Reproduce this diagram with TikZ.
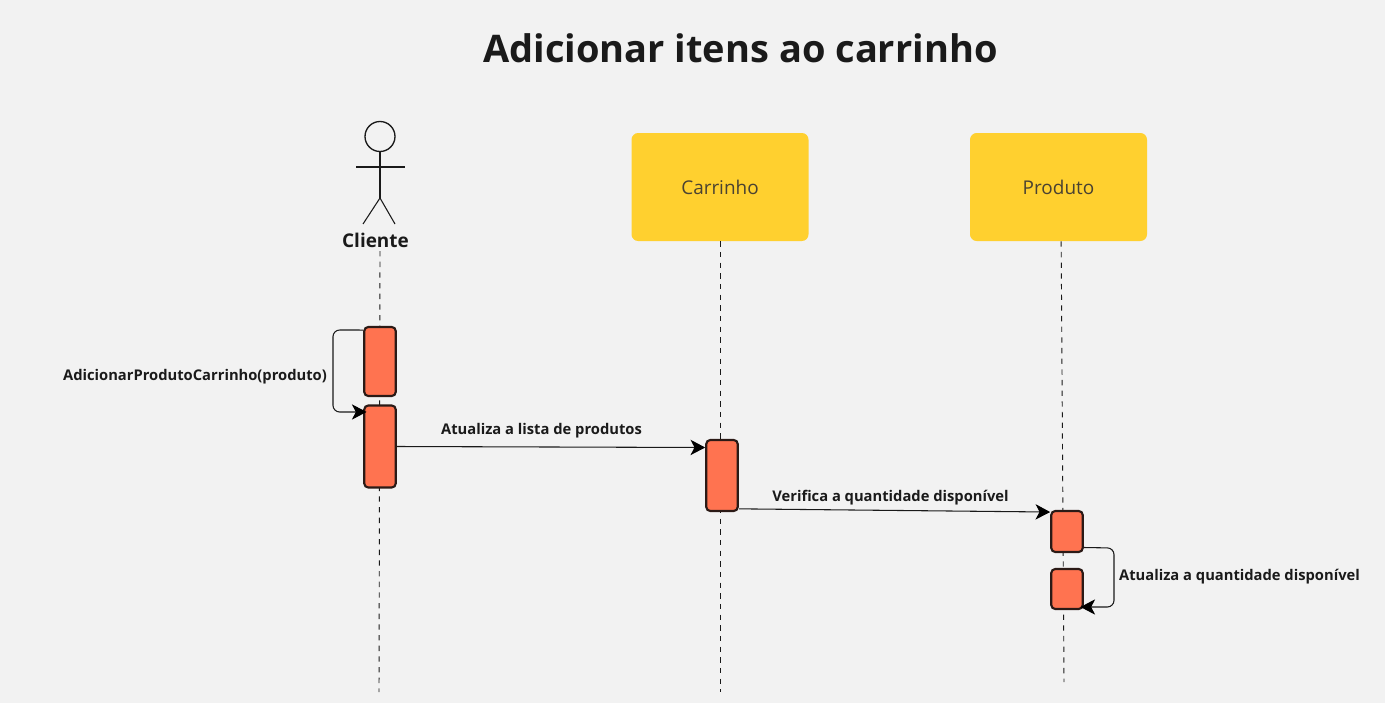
\documentclass[tikz,border=0pt]{standalone}
\usepackage{fontspec}
\setmainfont{Open Sans}
\usepackage{tikz}
\usetikzlibrary{arrows.meta}
\definecolor{paper}{HTML}{F2F2F2}
\definecolor{boxfill}{HTML}{FFD02F}
\definecolor{barfill}{HTML}{FF7350}
\definecolor{barline}{HTML}{2B1A16}
\definecolor{ink}{HTML}{1A1A1A}
\definecolor{boxtext}{HTML}{4A4232}
\tikzset{
  classbox/.style={fill=boxfill,rounded corners=5pt,minimum width=132.75pt,minimum height=81pt,text=boxtext,font=\fontsize{14.2}{17}\selectfont,inner sep=0pt},
  actbar/.style={draw=barline,fill=barfill,line width=1.6pt,rounded corners=3pt,minimum width=23.6pt,inner sep=0pt},
  lifeline/.style={line width=0.7pt,dash pattern=on 4pt off 4pt,draw=ink},
  msg/.style={draw=ink,line width=0.8pt,-{Stealth[length=11pt,width=11.5pt,inset=3pt,color=black]},rounded corners=5pt},
  selfmsg/.style={msg,shorten >=-2.5pt},
  msgtext/.style={font=\fontsize{11.05}{13}\selectfont\bfseries,text=ink,inner sep=0pt},
  stick/.style={draw=ink,line width=0.8pt}
}
\begin{document}
\begin{tikzpicture}[x=0.75pt,y=-0.75pt]
\fill[paper] (0,0) rectangle (1385,703);
\useasboundingbox (0,0) rectangle (1385,703);
% title
\node[font=\fontsize{28.5}{34}\selectfont\bfseries,text=ink,inner sep=0pt] (title) at (740.5,48) {Adicionar itens ao carrinho};
% actor
\node[draw=ink,circle,line width=1pt,minimum size=22.5pt,inner sep=0pt] (head) at (380,136.5) {};
\coordinate (armL) at (356,167);
\coordinate (armR) at (405,167);
\coordinate (hip) at (380,198);
\coordinate (legL) at (363,224);
\coordinate (legR) at (395,224);
\draw[stick] (head.south)--(hip);
\draw[stick] (armL)--(armR);
\draw[stick] (legL)--(hip)--(legR);
\node[font=\fontsize{14.2}{17}\selectfont\bfseries,text=ink,inner sep=0pt] (cliente) at (375.5,240.5) {Cliente};
% boxes
\node[classbox] (carrinho) at (720,187) {Carrinho};
\node[classbox] (produto) at (1058.5,187) {Produto};
% lifelines
\coordinate (clienteTop) at (380,251);
\coordinate (clienteEnd) at (379,692);
\coordinate (carrinhoEnd) at (720,692);
\coordinate (produtoEnd) at (1064,682);
\draw[lifeline] (clienteTop)--(clienteEnd);
\draw[lifeline] (carrinho.south)--(carrinhoEnd);
\draw[lifeline] ([xshift=2pt]produto.south)--(produtoEnd);
% bars
\node[actbar,minimum height=51.75pt] (barA) at (380,361.5) {};
\node[actbar,minimum height=61.5pt] (barB) at (380,446.5) {};
\node[actbar,minimum height=53.25pt] (barC) at (722,475.5) {};
\node[actbar,minimum height=30.75pt] (barD) at (1067,531.5) {};
\node[actbar,minimum height=30pt] (barE) at (1067,589) {};
% messages
\coordinate (loopA) at (333,330);
\coordinate (loopB) at (333,412);
\coordinate (loopC) at (1114,548);
\coordinate (loopD) at (1114,607);
\draw[selfmsg] ([yshift=23.6pt]barA.west)--(loopA)--(loopB)--([yshift=25.9pt]barB.west);
\draw[msg] (barB.east)--([yshift=21pt]barC.west);
\draw[msg] ([yshift=-25pt]barC.east)--([yshift=14.6pt]barD.west);
\draw[selfmsg] ([yshift=-12pt]barD.east)--(loopC)--(loopD)--([yshift=-13.5pt]barE.east);
% labels
\node[msgtext] (lblA) at (195,376.5) {AdicionarProdutoCarrinho(produto)};
\node[msgtext] (lblB) at (541.5,431) {Atualiza a lista de produtos};
\node[msgtext] (lblC) at (890.5,498) {Verifica a quantidade disponível};
\node[msgtext] (lblD) at (1239.5,577) {Atualiza a quantidade disponível};
\end{tikzpicture}
\end{document}
